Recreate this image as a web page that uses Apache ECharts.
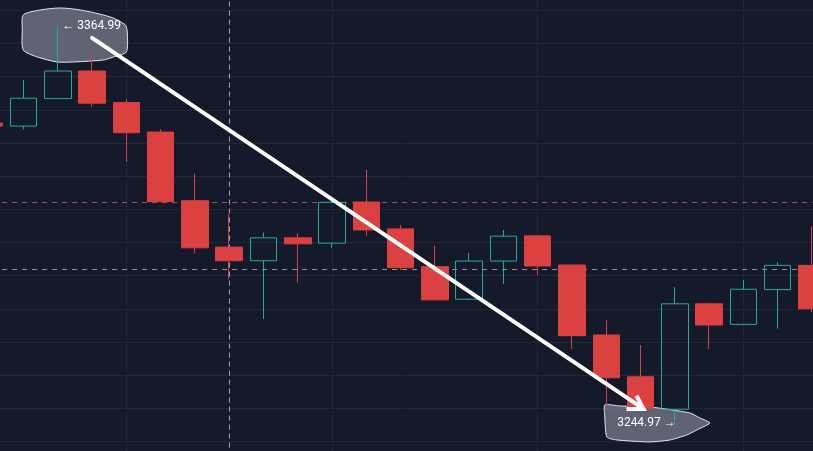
<!DOCTYPE html>
<html>
<head>
<meta charset="utf-8">
<style>
html,body{margin:0;padding:0;background:#151a2b;}
#c{width:813px;height:451px;}
</style>
<script src="https://cdn.jsdelivr.net/npm/echarts@6/dist/echarts.min.js"></script>
</head>
<body>
<div id="c"></div>
<script>
// ---- data ----
const categories = ['1','2','3','4','5','6','7','8','9','10','11','12','13','14','15','16','17','18','19','20','21','22','23','24','25'];
const opens  = [3336.0, 3335.1, 3343.4, 3351.7, 3342.2, 3333.3, 3312.6, 3298.6, 3294.5, 3301.4, 3299.8, 3312.2, 3304.1, 3292.7, 3282.9, 3294.4, 3302.0, 3293.2, 3272.1, 3259.5, 3249.7, 3281.5, 3275.3, 3285.8, 3293.1];
const closes = [3335.1, 3343.5, 3351.7, 3342.0, 3333.1, 3312.3, 3298.4, 3294.5, 3301.4, 3299.6, 3312.1, 3303.8, 3292.4, 3282.7, 3294.4, 3301.9, 3292.9, 3271.9, 3259.2, 3250.0, 3281.5, 3275.1, 3285.9, 3293.1, 3280.0];
const lows   = [3333.9, 3334.1, 3343.2, 3340.9, 3324.3, 3312.2, 3296.7, 3289.0, 3276.9, 3287.9, 3298.4, 3302.0, 3291.7, 3282.5, 3282.6, 3287.5, 3290.1, 3267.9, 3251.0, 3249.4, 3244.97, 3267.9, 3275.2, 3274.0, 3279.0];
const highs  = [3338.5, 3349.0, 3364.99, 3356.6, 3343.3, 3334.1, 3320.7, 3308.6, 3303.0, 3302.8, 3313.7, 3321.9, 3305.3, 3299.0, 3296.9, 3303.8, 3302.1, 3293.3, 3276.6, 3269.1, 3286.5, 3281.6, 3288.7, 3294.0, 3304.8];
const levelLines = [3312.0, 3292.0];          // horizontal dashed levels
const verticalGridCats = [4, 10, 16, 22];       // vertical grid lines (category index)
const crosshairCat = 7;                          // dashed vertical crosshair
const arrowFrom = [3, 3361.7];                   // [category index, price]
const arrowTo = [19, 3249.8];

// ---- chart ----
const chart = echarts.init(document.getElementById('c'), null, {renderer: 'canvas'});
const ohlc = categories.map((c, i) => [opens[i], closes[i], lows[i], highs[i]]);
const UP = '#27a99c', DOWN = '#db4140', BG = '#151a2b';

const markData = [];
verticalGridCats.forEach(c => markData.push({xAxis: c, lineStyle: {color: '#21263a', width: 1, type: 'solid'}}));
markData.push({xAxis: crosshairCat, lineStyle: {color: '#9ea3b0', width: 1, type: [5, 4]}});
markData.push({yAxis: levelLines[0], lineStyle: {color: '#b0485f', width: 1, type: [5, 5]}});
markData.push({yAxis: levelLines[1], lineStyle: {color: '#8e93a3', width: 1, type: [5, 5]}});

chart.setOption({
  backgroundColor: BG,
  animation: false,
  grid: {left: -27.9, width: 857, top: -22.8, height: 497.4, show: false, containLabel: false, outerBoundsMode: 'none'},
  xAxis: {
    type: 'category', data: categories, boundaryGap: true,
    axisLine: {show: false}, axisTick: {show: false}, axisLabel: {show: false}, splitLine: {show: false}
  },
  yAxis: {
    type: 'value', min: 3230, max: 3380, interval: 10, scale: true,
    axisLine: {show: false}, axisTick: {show: false}, axisLabel: {show: false},
    splitLine: {show: true, lineStyle: {color: '#21263a', width: 1}}
  },
  series: [{
    type: 'candlestick',
    data: ohlc,
    barWidth: 27,
    z: 3,
    itemStyle: {color: 'transparent', color0: DOWN, borderColor: UP, borderColor0: DOWN, borderWidth: 1},
    emphasis: {disabled: true},
    markLine: {
      silent: true, symbol: ['none', 'none'], label: {show: false}, animation: false, z: 1,
      data: markData
    }
  }]
});

// ---- annotations anchored to data ----
const px = (c, v) => chart.convertToPixel({gridIndex: 0}, [c, v]);
const hiVal = Math.max(...highs), hiIdx = highs.indexOf(hiVal);
const loVal = Math.min(...lows), loIdx = lows.indexOf(loVal);
const hi = px(hiIdx, hiVal), lo = px(loIdx, loVal);
const a0 = px(arrowFrom[0], arrowFrom[1]);
const a1p = px(arrowTo[0], arrowTo[1]);
const a1 = [a1p[0] + 3, a1p[1]];

const off = (o, pts) => pts.map(p => [o[0] + p[0], o[1] + p[1]]);
const topBubble = off(hi, [[-34.5,-12],[-17.5,-17],[2.5,-19],[22.5,-17],[52.5,-10],[67.5,-2],[69.5,6],[68.5,25],[55.5,30],[45.5,33],[15.5,35],[-0.5,35],[-20.5,30],[-34.5,23],[-35.5,3]]);
const botBubble = off(lo, [[-70,-20],[-55,-19],[-25,-18],[15,-12],[25,-7],[35,-2],[22,5],[12,10],[-5,15],[-25,17],[-58,15],[-68,12],[-70,-8]]);

const dx = a1[0] - a0[0], dy = a1[1] - a0[1], len = Math.hypot(dx, dy);
const ux = dx / len, uy = dy / len;
const wing = (deg, L) => {
  const t = deg * Math.PI / 180;
  const bx = -ux, by = -uy;
  return [a1[0] + (bx * Math.cos(t) - by * Math.sin(t)) * L, a1[1] + (bx * Math.sin(t) + by * Math.cos(t)) * L];
};
const w1 = wing(-34, 17), w2 = wing(28, 15);

const bubbleStyle = {fill: 'rgba(150,153,166,0.58)', stroke: '#e6e7ee', lineWidth: 1};
chart.setOption({
  graphic: [
    {type: 'polygon', z: 1, shape: {points: topBubble, smooth: 0.25}, style: bubbleStyle},
    {type: 'polygon', z: 1, shape: {points: botBubble, smooth: 0.2}, style: bubbleStyle},
    {type: 'text', z: 20, style: {text: '← ' + hiVal.toFixed(2), x: hi[0] + 4.5, y: hi[1] - 1, fill: '#ffffff', font: '12px Roboto', verticalAlign: 'middle', align: 'left'}},
    {type: 'text', z: 20, style: {text: loVal.toFixed(2) + ' →', x: lo[0] - 57.7, y: lo[1] - 2, fill: '#ffffff', font: '12px Roboto', verticalAlign: 'middle', align: 'left'}},
    {type: 'line', z: 30, shape: {x1: a0[0], y1: a0[1], x2: a1[0], y2: a1[1]}, style: {stroke: '#ffffff', lineWidth: 4, lineCap: 'round'}},
    {type: 'polyline', z: 30, shape: {points: [w1, a1, w2]}, style: {stroke: '#ffffff', lineWidth: 4, lineCap: 'butt', lineJoin: 'miter', fill: null}}
  ]
});
</script>
</body>
</html>
